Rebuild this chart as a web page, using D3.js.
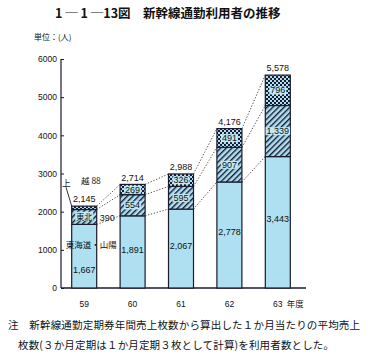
<!DOCTYPE html>
<html>
<head>
<meta charset="utf-8">
<script src="https://cdn.jsdelivr.net/npm/d3@7"></script>
<style>
  body { margin: 0; background: #fff; }
  svg { display: block; }
  text { font-family: "Noto Sans CJK JP", "DejaVu Sans", sans-serif; fill: #111; }
  .num { font-family: "Liberation Sans Narrow", "Liberation Sans", sans-serif; }
</style>
</head>
<body>
<svg width="391" height="362"></svg>
<script>
// data
const years = ["59", "60", "61", "62", "63"];
const tokaido = [1667, 1891, 2067, 2778, 3443];   // 東海道・山陽
const tohoku = [390, 554, 595, 907, 1339];        // 東北
const joetsu = [88, 269, 326, 491, 796];          // 上越
const totals = [2145, 2714, 2988, 4176, 5578];
const yTicks = [0, 1000, 2000, 3000, 4000, 5000, 6000];

const svg = d3.select("svg");
const blue = "#aee0f2", ink = "#1a1a2e";

/* patterns */
const defs = svg.append("defs");
const hatch = defs.append("pattern").attr("id", "hatch")
    .attr("patternUnits", "userSpaceOnUse").attr("width", 4).attr("height", 4)
    .attr("patternTransform", "rotate(45)");
hatch.append("rect").attr("width", 4).attr("height", 4).attr("fill", blue);
hatch.append("rect").attr("width", 1.4).attr("height", 4).attr("fill", ink);

const cross = defs.append("pattern").attr("id", "cross")
    .attr("patternUnits", "userSpaceOnUse").attr("width", 4).attr("height", 4);
cross.append("rect").attr("width", 4).attr("height", 4).attr("fill", blue);
cross.append("rect").attr("width", 2).attr("height", 2).attr("fill", ink);
cross.append("rect").attr("x", 2).attr("y", 2).attr("width", 2).attr("height", 2).attr("fill", ink);

/* scales */
const x = d3.scalePoint().domain(years).range([60, 302]).padding(0.5);
const y = d3.scaleLinear().domain([0, 6000]).range([288, 59]);
const bw = 25;

/* title */
svg.append("text").attr("x", 55).attr("y", 18)
    .style("font-size", "12.5px").style("font-weight", "bold")
    .text("1 ─ 1 ─13図　新幹線通勤利用者の推移");
svg.append("text").attr("x", 34).attr("y", 40).style("font-size", "8px").text("単位：(人)");

/* axis */
const yAxis = d3.axisLeft(y).tickValues(yTicks).tickSize(-3).tickPadding(4).tickFormat(d3.format("d"));
const ga = svg.append("g").attr("transform", "translate(61,0)").call(yAxis);
ga.select(".domain").remove();
ga.selectAll(".tick line").attr("stroke", ink);
ga.selectAll(".tick text").attr("class", "num").style("font-size", "8.5px").attr("fill", ink);
svg.append("line").attr("x1", 61).attr("x2", 61).attr("y1", y(6000)).attr("y2", y(0))
    .attr("stroke", ink).attr("stroke-width", 1.2);
svg.append("line").attr("x1", 61).attr("x2", 306).attr("y1", y(0)).attr("y2", y(0))
    .attr("stroke", ink).attr("stroke-width", 1.6);

/* stacked segments */
const series = [
  { vals: tokaido, fill: blue },
  { vals: tohoku, fill: "url(#hatch)" },
  { vals: joetsu, fill: "url(#cross)" }
];
const bases = years.map(() => 0);
const tops = [];
series.forEach((s, si) => {
  tops[si] = [];
  years.forEach((yr, i) => {
    const y0 = bases[i], y1 = bases[i] + s.vals[i];
    tops[si][i] = y1;
    svg.append("rect")
        .attr("x", x(yr) - bw / 2).attr("width", bw)
        .attr("y", y(y1)).attr("height", y(y0) - y(y1))
        .attr("fill", s.fill).attr("stroke", ink).attr("stroke-width", 1.2);
    bases[i] = y1;
  });
});

/* dotted connectors between bars */
tops.forEach(t => {
  for (let i = 0; i < years.length - 1; i++) {
    svg.append("line")
        .attr("x1", x(years[i]) + bw / 2).attr("y1", y(t[i]))
        .attr("x2", x(years[i + 1]) - bw / 2).attr("y2", y(t[i + 1]))
        .attr("stroke", "#4a3a30").attr("stroke-width", 0.9)
        .attr("stroke-dasharray", "1.3,1.7");
  }
});

const fmt = d3.format(",");
function label(cx, cy, txt, boxed) {
  const t = svg.append("text").attr("class", "num")
      .attr("x", cx).attr("y", cy).attr("dy", "0.35em")
      .attr("text-anchor", "middle").style("font-size", "9px").text(txt);
  if (boxed) {
    const b = t.node().getBBox();
    svg.insert("rect", () => t.node())
        .attr("x", b.x - 1).attr("y", b.y + 1).attr("width", b.width + 2).attr("height", b.height - 2)
        .attr("fill", "#bfe8f6");
  }
}

years.forEach((yr, i) => {
  const cx = x(yr);
  // bottom segment value
  const frac = i === 0 ? 0.28 : 0.53;
  label(cx, y(tokaido[i] * frac), fmt(tokaido[i]), false);
  if (i > 0) {
    label(cx, y(tokaido[i] + tohoku[i] / 2), fmt(tohoku[i]), true);
    label(cx, y(tops[1][i] + joetsu[i] / 2), fmt(joetsu[i]), true);
  }
  label(cx, y(totals[i]) - 7, fmt(totals[i]), false);
});

/* 59 special labels */
const c0 = x(years[0]);
const mid0 = y(tokaido[0] + tohoku[0] / 2);
const tb = svg.append("text").attr("x", c0).attr("y", mid0).attr("dy", "0.35em")
    .attr("text-anchor", "middle").style("font-size", "8px").text("東北");
const bb = tb.node().getBBox();
svg.insert("rect", () => tb.node()).attr("x", bb.x - 1).attr("y", bb.y + 1)
    .attr("width", bb.width + 2).attr("height", bb.height - 2).attr("fill", "#bfe8f6");
svg.append("text").attr("class", "num").attr("x", c0 + bw / 2 + 3).attr("y", mid0 + 1)
    .attr("dy", "0.35em").style("font-size", "9px").text(fmt(tohoku[0]));
svg.append("text").attr("x", c0 + 7).attr("y", y(1130)).attr("dy", "0.35em")
    .attr("text-anchor", "middle").style("font-size", "8.5px").text("東海道・山陽");
svg.append("text").attr("x", 62).attr("y", y(2760)).attr("dy", "0.35em")
    .style("font-size", "8.5px").text("上");
svg.append("text").attr("x", 81).attr("y", y(2800)).attr("dy", "0.35em")
    .style("font-size", "8.5px").text("越 88");
svg.append("line").attr("x1", 66).attr("y1", y(2640)).attr("x2", c0 - bw / 2).attr("y2", y(totals[0]))
    .attr("stroke", ink).attr("stroke-width", 0.9);

/* x labels */
years.forEach(yr => {
  svg.append("text").attr("class", "num").attr("x", x(yr)).attr("y", 307)
      .attr("text-anchor", "middle").style("font-size", "8.5px").text(yr);
});
svg.append("text").attr("x", x("63") + 9).attr("y", 307).style("font-size", "8.5px").text("年度");

/* note */
svg.append("text").attr("x", 8).attr("y", 329).attr("textLength", 352)
    .style("font-size", "10.5px")
    .text("注　新幹線通勤定期券年間売上枚数から算出した１か月当たりの平均売上");
svg.append("text").attr("x", 18).attr("y", 349).attr("textLength", 316)
    .style("font-size", "10.5px")
    .text("枚数(３か月定期は１か月定期３枚として計算)を利用者数とした。");
</script>
</body>
</html>
